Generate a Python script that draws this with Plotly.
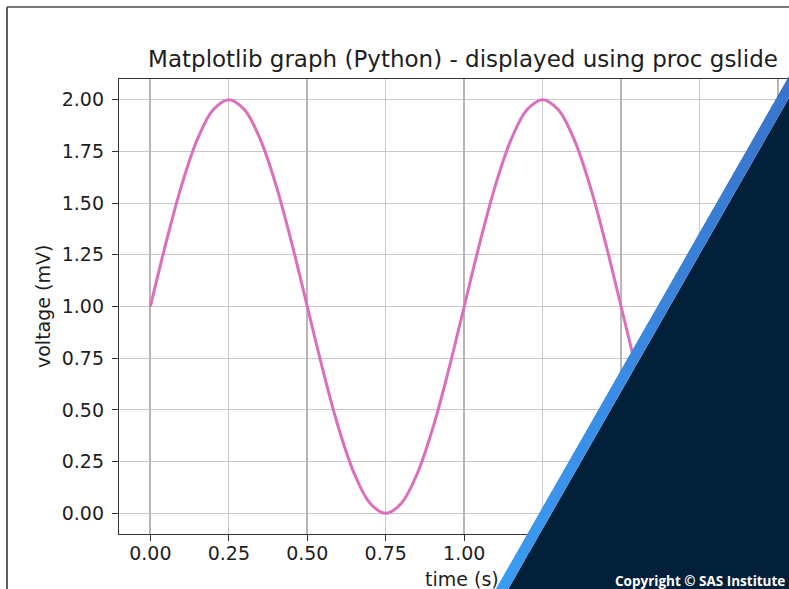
import plotly.graph_objects as go

# ---- data ----
time_s = [0.00, 0.05, 0.10, 0.15, 0.20, 0.25, 0.30, 0.35, 0.40, 0.45,
          0.50, 0.55, 0.60, 0.65, 0.70, 0.75, 0.80, 0.85, 0.90, 0.95,
          1.00, 1.05, 1.10, 1.15, 1.20, 1.25, 1.30, 1.35, 1.40, 1.45,
          1.50, 1.55, 1.60, 1.65, 1.70, 1.75, 1.80, 1.85, 1.90, 1.95, 2.00]
voltage_mv = [1.000, 1.309, 1.588, 1.809, 1.951, 2.000, 1.951, 1.809, 1.588, 1.309,
              1.000, 0.691, 0.412, 0.191, 0.049, 0.000, 0.049, 0.191, 0.412, 0.691,
              1.000, 1.309, 1.588, 1.809, 1.951, 2.000, 1.951, 1.809, 1.588, 1.309,
              1.000, 0.691, 0.412, 0.191, 0.049, 0.000, 0.049, 0.191, 0.412, 0.691, 1.000]

title_text = "Matplotlib graph (Python) - displayed using proc gslide"
x_label = "time (s)"
y_label = "voltage (mV)"
copyright_text = "Copyright © SAS Institute"

# ---- layout geometry (pixels) ----
FW, FH = 789, 589
L, R, T, B = 119, 789, 79, 534
W, H = R - L, B - T


def px(x):
    return (x - L) / W


def py(y):
    return (B - y) / H


FONT = "DejaVu Sans"
TXT = "#1e1e1e"

fig = go.Figure()
fig.add_trace(go.Scatter(
    x=time_s, y=voltage_mv, mode="lines",
    line=dict(color="#db6fbb", width=3, shape="spline", smoothing=1.0),
    showlegend=False, hoverinfo="skip"))

axis_common = dict(
    showline=True, mirror=True, linecolor="#333333", linewidth=1.3,
    ticks="outside", ticklen=6, tickwidth=1.2, tickcolor="#333333",
    tickfont=dict(family=FONT, size=19, color=TXT),
    zeroline=False, tickformat=".2f",
)

fig.update_layout(
    width=FW, height=FH,
    margin=dict(l=L, r=FW - R, t=T, b=FH - B, pad=0),
    paper_bgcolor="white", plot_bgcolor="white",
    title=dict(text=title_text, x=463 / FW, xanchor="center",
               y=1 - 59 / FH, yanchor="middle",
               font=dict(family=FONT, size=23, color=TXT)),
    xaxis=dict(range=[-0.1, 2.035], dtick=0.25, tick0=0,
               showgrid=True, gridcolor="#c8c8c8", gridwidth=1,
               ticklabelstandoff=-4, **axis_common),
    xaxis2=dict(range=[-0.1, 2.035], dtick=0.5, tick0=0, overlaying="x",
                showgrid=True, gridcolor="#b6b6b6", gridwidth=2,
                showticklabels=False, ticks="", showline=False, zeroline=False),
    yaxis=dict(range=[-0.1, 2.1], dtick=0.25, tick0=0,
               showgrid=True, gridcolor="#c8c8c8", gridwidth=1.2,
               ticklabelstandoff=4, **axis_common),
)
# invisible trace so the second x axis (wider grid lines) is drawn
fig.add_trace(go.Scatter(x=[time_s[0]], y=[voltage_mv[0]], xaxis="x2", yaxis="y",
                         mode="markers", marker=dict(opacity=0), showlegend=False,
                         hoverinfo="skip"))

# axis labels
fig.add_annotation(text=x_label, xref="paper", yref="paper",
                   x=px(462), y=py(579), xanchor="center", yanchor="middle",
                   showarrow=False, font=dict(family=FONT, size=19, color=TXT))
fig.add_annotation(text=y_label, xref="paper", yref="paper",
                   x=px(43), y=py(307), xanchor="center", yanchor="middle",
                   textangle=-90, showarrow=False,
                   font=dict(family=FONT, size=19, color=TXT))

shapes = []
# slide frame
shapes.append(dict(type="line", xref="paper", yref="paper",
                   x0=px(7), y0=py(600), x1=px(7), y1=py(7),
                   line=dict(color="#2a2a2a", width=1.5), layer="above"))
shapes.append(dict(type="line", xref="paper", yref="paper",
                   x0=px(7), y0=py(7), x1=px(800), y1=py(7),
                   line=dict(color="#4a4a4a", width=1.5), layer="above"))


def x_out(y):
    return 789 - (y - 76) * 0.5714


def x_in(y):
    return 789 - (y - 98) * 0.5717


# dark triangle
ytop_d = 98 - 21 / 0.5717
pts = [(x_in(600), 600), (810, 600), (810, ytop_d), (x_in(ytop_d), ytop_d)]
path = "M " + " L ".join(f"{px(a)},{py(b)}" for a, b in pts) + " Z"
shapes.append(dict(type="path", xref="paper", yref="paper", path=path,
                   fillcolor="#02203a", line=dict(width=0), layer="above"))

# blue stripe with vertical gradient (segments)
c_top = (0x39, 0x70, 0xc8)
c_bot = (0x3b, 0x9c, 0xf4)
N = 12
y_top, y_bot = 50, 600
for i in range(N):
    ya = y_top + (y_bot - y_top) * i / N
    yb = y_top + (y_bot - y_top) * (i + 1) / N + 1
    f = (i + 0.5) / N
    col = "#%02x%02x%02x" % tuple(int(round(c_top[k] + (c_bot[k] - c_top[k]) * f)) for k in range(3))
    seg = [(x_out(ya), ya), (x_in(ya), ya), (x_in(yb), yb), (x_out(yb), yb)]
    p = "M " + " L ".join(f"{px(a)},{py(b)}" for a, b in seg) + " Z"
    shapes.append(dict(type="path", xref="paper", yref="paper", path=p,
                       fillcolor=col, line=dict(width=0), layer="above"))

fig.update_layout(shapes=shapes)

fig.add_annotation(text="<b>" + copyright_text + "</b>", xref="paper", yref="paper",
                   x=px(787), y=py(581), xanchor="right", yanchor="middle",
                   showarrow=False, font=dict(family="Open Sans", size=13.5, color="white"))

fig.write_html("out.html",
               config={"displayModeBar": False},
               post_script="document.body.style.margin='0';"
                           "document.body.style.overflow='hidden';")
